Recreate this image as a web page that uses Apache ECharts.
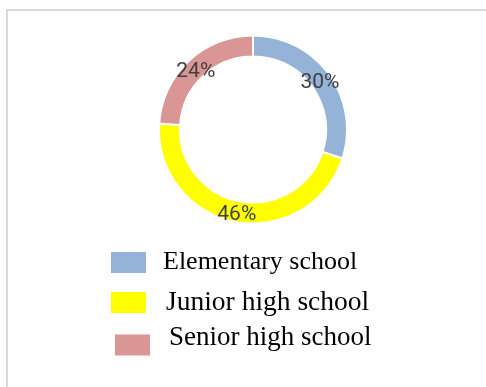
<!DOCTYPE html>
<html>
<head>
<meta charset="utf-8">
<script src="https://cdn.jsdelivr.net/npm/echarts@6/dist/echarts.min.js"></script>
<style>
html,body{margin:0;padding:0;background:#fff;}
#chart{width:486px;height:387px;}
</style>
</head>
<body>
<div id="chart"></div>
<script>
const categories = ['Elementary school', 'Junior high school', 'Senior high school'];
const values = [30, 46, 24];
const colors = ['#95B3D7', '#FFFF00', '#D99694'];
const labelOffsets = [[-3, 4.5], [0, 0], [2, 5]];

const chart = echarts.init(document.getElementById('chart'));
const legendPos = [
  {left: 111, top: 249.5, size: 26, pad: [0, 0, 0, 12]},
  {left: 111, top: 288.5, size: 27.5, pad: [0, 0, 0, 15]},
  {left: 115, top: 324, size: 27, pad: [0, 0, 15, 14]}
];
const option = {
  animation: false,
  color: colors,
  graphic: [{
    type: 'rect',
    shape: {x: 7, y: 10, width: 700, height: 700},
    style: {fill: 'none', stroke: '#d9d9d9', lineWidth: 2},
    silent: true
  }],
  legend: categories.map((c, i) => ({
    data: [c],
    left: legendPos[i].left,
    top: legendPos[i].top,
    padding: 0,
    itemWidth: 35,
    itemHeight: 21,
    itemGap: 0,
    icon: 'rect',
    selectedMode: false,
    itemStyle: {borderWidth: 0},
    formatter: '{t|{name}}',
    textStyle: {
      fontFamily: 'Liberation Serif',
      fontSize: legendPos[i].size,
      lineHeight: 21,
      color: '#000',
      rich: {
        t: {
          fontFamily: 'Liberation Serif',
          fontSize: legendPos[i].size,
          lineHeight: 21,
          color: '#000',
          padding: legendPos[i].pad
        }
      }
    }
  })),
  series: [{
    type: 'pie',
    center: [253, 129.5],
    radius: [73, 94],
    startAngle: 90,
    clockwise: true,
    avoidLabelOverlap: false,
    itemStyle: {borderColor: '#fff', borderWidth: 2},
    label: {
      show: true,
      position: 'inside',
      formatter: '{d}%',
      fontFamily: 'Roboto',
      fontSize: 21,
      color: '#404040'
    },
    labelLine: {show: false},
    data: categories.map((c, i) => ({
      name: c,
      value: values[i],
      label: {offset: labelOffsets[i]}
    }))
  }]
};
chart.setOption(option);
</script>
</body>
</html>
